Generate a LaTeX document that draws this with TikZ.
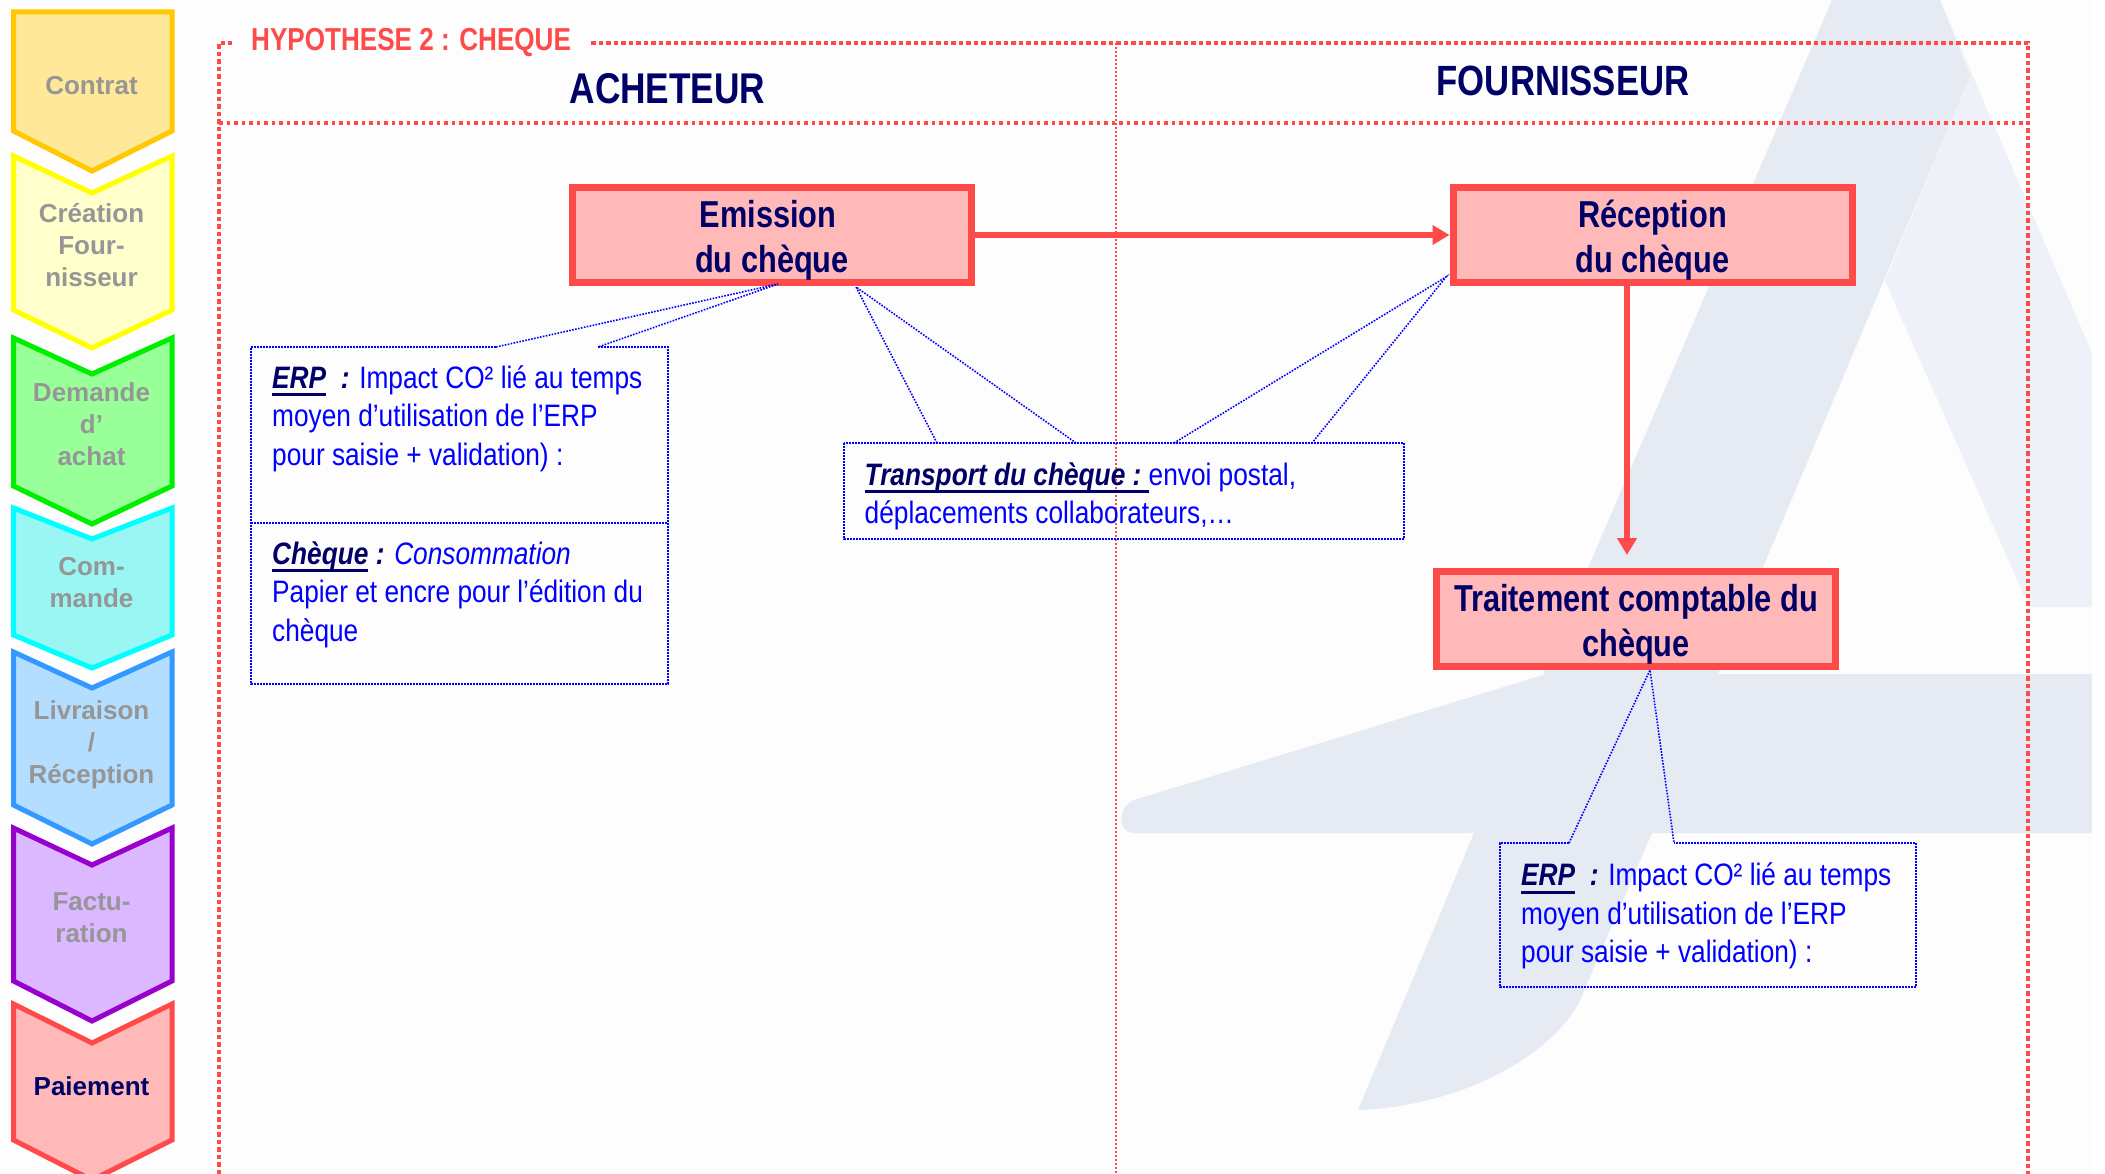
\documentclass[tikz,border=0pt]{standalone}
\usepackage{fontspec}
\usepackage{graphicx}
\setmainfont{Liberation Sans}
\newfontfamily\headf[FakeStretch=0.82]{Liberation Sans}
\usetikzlibrary{arrows.meta}
\definecolor{navy}{HTML}{000066}
\definecolor{redl}{HTML}{FF4A4A}
\definecolor{redf}{HTML}{FFB9B9}
\definecolor{bluet}{HTML}{0000FF}
\definecolor{wmA}{HTML}{E5EAF3}
\definecolor{wmB}{HTML}{EEF1F8}
\definecolor{chgrey}{HTML}{969696}
\definecolor{bgc}{HTML}{FDFDFD}
\definecolor{c1d}{HTML}{FFC800}\definecolor{c1f}{HTML}{FFE999}
\definecolor{c2d}{HTML}{FFFF00}\definecolor{c2f}{HTML}{FFFFCC}
\definecolor{c3d}{HTML}{00EE00}\definecolor{c3f}{HTML}{99FF99}
\definecolor{c4d}{HTML}{00FFFF}\definecolor{c4f}{HTML}{99F6F3}
\definecolor{c5d}{HTML}{3399FF}\definecolor{c5f}{HTML}{B3DEFF}
\definecolor{c6d}{HTML}{9900CC}\definecolor{c6f}{HTML}{DBB8FF}
\newcommand{\ulin}[1]{\setbox0\hbox{#1}\rlap{\color{navy}\rule[-8pt]{\wd0}{3pt}}\box0}
\newcommand{\bi}[1]{{\color{navy}\bfseries\itshape #1}}
\newcommand{\firstl}{\rule{0pt}{24pt}}
\newcommand{\tstrut}{\rule{0pt}{38pt}}
\newcommand{\bodyblock}[1]{\scalebox{0.847}[1]{\vbox{\baselineskip=38.5pt\lineskiplimit=-100pt #1}}}
\tikzset{
  x=1pt,y=-1pt,
  chev/.style={line width=5pt,miter limit=10,line join=miter},
  chevtext/.style={font=\fontsize{26}{32}\selectfont\bfseries,text=chgrey,align=center,inner sep=0pt},
  mainbox/.style={draw=redl,fill=redf,line width=7pt,minimum width=399pt,minimum height=95pt,inner sep=0pt,
     align=center,text=navy,font=\headf\fontsize{37.5}{45}\selectfont\bfseries},
  heading/.style={text=navy,inner sep=0pt,font=\headf\bfseries},
  frameline/.style={draw=redl,line width=4pt,dash pattern=on 4.5pt off 3pt},
  thinred/.style={draw=redl,line width=1.5pt,dash pattern=on 2pt off 2pt},
  callout/.style={draw=bluet,line width=1.6pt,dash pattern=on 1.6pt off 1.4pt},
  bodytext/.style={anchor=north west,inner sep=0pt,align=left,text=bluet,font=\fontsize{31}{38.5}\selectfont},
  flow/.style={draw=redl,line width=5.5pt,-{Triangle[length=17pt,width=19pt]}},
}
\begin{document}
\begin{tikzpicture}
\useasboundingbox (0,0) rectangle (2105,1174);
\clip (0,0) rectangle (2105,1174);
\fill[bgc] (0,0) rectangle (2092,1174);
% watermark
\fill[wmB] (1940,0) -- (2092,353) -- (2092,607) -- (2029,607) -- (1885,281) -- (1970,76) -- cycle;
\fill[wmA] (1832,0) -- (1940,0) -- (1970,76) -- (1718,674) -- (2092,674) -- (2092,833) -- (1652,833)
  -- (1585,988)
  .. controls (1570,1040) and (1480,1105) .. (1358,1110)
  -- (1474,833) -- (1134,833)
  .. controls (1118,833) and (1116,808) .. (1134,800)
  -- (1543,675) -- (1588,568) -- cycle;
% frame
\coordinate (fTL) at (219,43);
\coordinate (fTLb) at (232,43);
\coordinate (fTa) at (591,43);
\coordinate (fTR) at (2028,43);
\coordinate (fBL) at (219,1174);
\coordinate (fBR) at (2028,1174);
\coordinate (dL) at (219,123);
\coordinate (dR) at (2028,123);
\coordinate (mT) at (1116,43);
\coordinate (mB) at (1116,1174);
\draw[frameline] (fBL) -- (fTL) -- (fTLb);
\draw[frameline] (fTa) -- (fTR) -- (fBR);
\draw[frameline,line width=3.5pt,dash pattern=on 3.5pt off 4pt] (dL) -- (dR);
\draw[thinred] (mT) -- (mB);
% chevrons
\filldraw[chev,draw=c1d,fill=c1f] (13.5,12) -- (172,12) -- (172,131) -- (92,171) -- (13.5,131) -- cycle;
\filldraw[chev,draw=c2d,fill=c2f] (13.5,156) -- (92,193) -- (172,156) -- (172,310) -- (92,348) -- (13.5,310) -- cycle;
\filldraw[chev,draw=c3d,fill=c3f] (13.5,338) -- (92,374) -- (172,338) -- (172,486) -- (92,524) -- (13.5,486) -- cycle;
\filldraw[chev,draw=c4d,fill=c4f] (13.5,508) -- (92,539) -- (172,508) -- (172,635) -- (92,668) -- (13.5,635) -- cycle;
\filldraw[chev,draw=c5d,fill=c5f] (13.5,652) -- (92,688) -- (172,652) -- (172,805) -- (92,844) -- (13.5,805) -- cycle;
\filldraw[chev,draw=c6d,fill=c6f] (13.5,828) -- (92,865) -- (172,828) -- (172,981) -- (92,1021) -- (13.5,981) -- cycle;
\filldraw[chev,draw=redl,fill=redf] (13.5,1004) -- (92,1043) -- (172,1004) -- (172,1140) -- (92,1180) -- (13.5,1140) -- cycle;
\node[chevtext] (c1) at (91.5,86) {Contrat};
\node[chevtext] (c2) at (91.5,245) {Création\\Four-\\nisseur};
\node[chevtext] (c3) at (91.5,424) {Demande\\d’\\achat};
\node[chevtext] (c4) at (91.5,583) {Com-\\mande};
\node[chevtext] (c5) at (91.5,745) {Livraison\\/\\Réception};
\node[chevtext] (c6) at (91.5,918) {Factu-\\ration};
\node[chevtext,text=navy] (c7) at (91.5,1086) {Paiement};
% headings
\node[anchor=west,inner sep=0pt,text=redl,font=\headf\fontsize{31.8}{36}\selectfont\bfseries] (hyp) at (251,43) {HYPOTHESE 2 : CHEQUE};
\node[heading,font=\headf\fontsize{43}{48}\selectfont\bfseries] (ach) at (667.5,89) {ACHETEUR};
\node[heading,font=\headf\fontsize{42.3}{48}\selectfont\bfseries] (fou) at (1563,81) {FOURNISSEUR};
% main boxes
\node[mainbox] (em) at (772,235) {\tstrut Emission\hspace*{8pt}\\du chèque};
\node[mainbox] (rec) at (1652.5,235) {\tstrut Réception\\du chèque};
\node[mainbox] (tra) at (1636,619) {\tstrut Traitement comptable du\\chèque};
\coordinate (tv) at (1627,555);
\draw[flow] (em.east) -- (rec.west);
\draw[flow] (rec.south -| tv) -- (tv);
% callout box 1
\coordinate (b1a) at (496,347);
\coordinate (b1b) at (598,347);
\coordinate (b1tr) at (668,347);
\coordinate (b1tl) at (251,347);
\coordinate (b1ml) at (251,523);
\coordinate (b1mr) at (668,523);
\coordinate (b1bl) at (251,684);
\coordinate (b1br) at (668,684);
\coordinate (ap1) at (778,284);
\draw[callout] (b1a) -- (b1tl) -- (b1bl) -- (b1br) -- (b1tr) -- (b1b);
\draw[callout] (b1ml) -- (b1mr);
\draw[callout] (b1a) -- (ap1) -- (b1b);
\node[bodytext] (t1) at (272,364) {\bodyblock{\hbox{\firstl\ulin{\bi{ERP}}\bi{\ \ :} Impact CO² lié au temps}\hbox{moyen d’utilisation de l’ERP}\hbox{pour saisie + validation) :}}};
\node[bodytext] (t2) at (272,540) {\bodyblock{\hbox{\firstl\ulin{\bi{Chèque}}\bi{\ :} {\itshape Consommation}}\hbox{Papier et encre pour l’édition du}\hbox{chèque}}};
% transport
\coordinate (b2tl) at (844,443);
\coordinate (b2br) at (1404,539);
\coordinate (b2a) at (937,443);
\coordinate (b2b) at (1076,443);
\coordinate (b2c) at (1174,443);
\coordinate (b2d) at (1312,443);
\coordinate (ap2) at (856,287);
\coordinate (ap3) at (1446,277);
\draw[callout] (b2tl) rectangle (b2br);
\draw[callout] (b2a) -- (ap2) -- (b2b);
\draw[callout] (b2c) -- (ap3) -- (b2d);
\node[bodytext] (t3) at (864.5,461) {\bodyblock{\hbox{\firstl\ulin{\bi{Transport du chèque :\ }}envoi postal,}\hbox{déplacements collaborateurs,…}}};
% box 3
\coordinate (b3tl) at (1500,843);
\coordinate (b3tr) at (1916,843);
\coordinate (b3bl) at (1500,987);
\coordinate (b3br) at (1916,987);
\coordinate (b3a) at (1569,843);
\coordinate (b3b) at (1674,843);
\coordinate (ap4) at (1650,670);
\draw[callout] (b3a) -- (b3tl) -- (b3bl) -- (b3br) -- (b3tr) -- (b3b);
\draw[callout] (b3a) -- (ap4) -- (b3b);
\node[bodytext] (t4) at (1521,861.5) {\bodyblock{\hbox{\firstl\ulin{\bi{ERP}}\bi{\ \ :} Impact CO² lié au temps}\hbox{moyen d’utilisation de l’ERP}\hbox{pour saisie + validation) :}}};
\end{tikzpicture}
\end{document}
